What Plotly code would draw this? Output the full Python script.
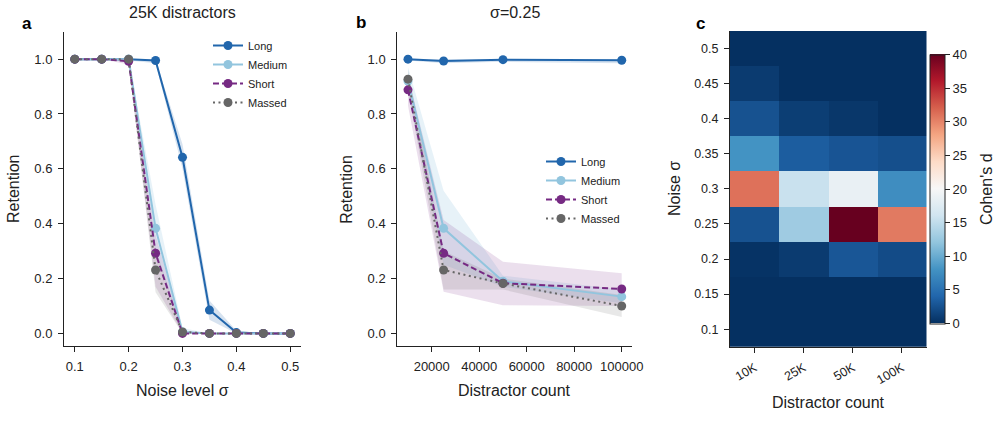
import plotly.graph_objects as go

# ---------------- data ----------------
sigma = [0.1, 0.15, 0.2, 0.25, 0.3, 0.35, 0.4, 0.45, 0.5]
a_long = [1.0, 1.0, 1.0, 0.995, 0.642, 0.085, 0.003, 0.0, 0.0]
a_long_lo = [1.0, 1.0, 0.995, 0.985, 0.60, 0.05, 0.0, 0.0, 0.0]
a_long_hi = [1.0, 1.0, 1.0, 1.0, 0.69, 0.12, 0.01, 0.0, 0.0]
a_medium = [1.0, 1.0, 1.0, 0.383, 0.005, 0.0, 0.0, 0.0, 0.0]
a_medium_lo = [1.0, 1.0, 0.99, 0.30, 0.0, 0.0, 0.0, 0.0, 0.0]
a_medium_hi = [1.0, 1.0, 1.0, 0.47, 0.02, 0.0, 0.0, 0.0, 0.0]
a_short = [1.0, 1.0, 0.992, 0.292, 0.0, 0.0, 0.0, 0.0, 0.0]
a_short_lo = [1.0, 1.0, 0.98, 0.17, 0.0, 0.0, 0.0, 0.0, 0.0]
a_short_hi = [1.0, 1.0, 1.0, 0.36, 0.01, 0.0, 0.0, 0.0, 0.0]
a_massed = [1.0, 1.0, 1.0, 0.231, 0.005, 0.0, 0.0, 0.0, 0.0]
a_massed_lo = [1.0, 1.0, 0.99, 0.15, 0.0, 0.0, 0.0, 0.0, 0.0]
a_massed_hi = [1.0, 1.0, 1.0, 0.31, 0.01, 0.0, 0.0, 0.0, 0.0]

distractors = [10000, 25000, 50000, 100000]
b_long = [1.0, 0.993, 0.998, 0.996]
b_long_lo = [0.995, 0.985, 0.99, 0.985]
b_long_hi = [1.0, 1.0, 1.0, 1.0]
b_medium = [0.92, 0.383, 0.19, 0.134]
b_medium_lo = [0.88, 0.25, 0.17, 0.11]
b_medium_hi = [0.97, 0.52, 0.21, 0.16]
b_short = [0.888, 0.292, 0.183, 0.162]
b_short_lo = [0.83, 0.152, 0.103, 0.10]
b_short_hi = [0.94, 0.413, 0.261, 0.219]
b_massed = [0.927, 0.231, 0.182, 0.10]
b_massed_lo = [0.89, 0.16, 0.16, 0.06]
b_massed_hi = [0.96, 0.30, 0.20, 0.14]

heat_x_labels = ["10K", "25K", "50K", "100K"]
heat_y_labels = ["0.1", "0.15", "0.2", "0.25", "0.3", "0.35", "0.4", "0.45", "0.5"]
# rows: noise 0.1 (bottom) -> 0.5 (top); columns: 10K, 25K, 50K, 100K
cohens_d = [
    [0.0, 0.0, 0.0, 0.0],
    [0.0, 0.0, 0.0, 0.0],
    [0.2, 0.8, 2.8, 2.0],
    [2.5, 12.8, 40.0, 30.5],
    [31.0, 15.5, 18.5, 7.5],
    [8.0, 3.3, 2.7, 2.3],
    [2.5, 1.0, 0.5, 0.0],
    [0.8, 0.0, 0.0, 0.0],
    [0.0, 0.0, 0.0, 0.0],
]
cbar_ticks = [0, 5, 10, 15, 20, 25, 30, 35, 40]

# ---------------- styles ----------------
W, H = 1001, 438
FONT = "Liberation Sans, Arial, sans-serif"
TXT = "#222222"
series = [
    ("Long", "#2166ac", "solid", "rgba(33,102,172,0.18)"),
    ("Medium", "#92c5de", "solid", "rgba(146,197,222,0.22)"),
    ("Short", "#762a83", "6px,3px", "rgba(118,42,131,0.15)"),
    ("Massed", "#666666", "2px,3.5px", "rgba(102,102,102,0.15)"),
]

def px_x(p):
    return p / W

def px_y(p):
    return 1 - p / H

fig = go.Figure()

def add_panel(x, vals, xa, ya, legend):
    for (name, col, dash, fillc), (v, lo, hi) in zip(series, vals):
        fig.add_trace(go.Scatter(
            x=list(x) + list(x)[::-1], y=list(hi) + list(lo)[::-1],
            fill="toself", fillcolor=fillc, line=dict(width=0),
            mode="lines", showlegend=False, hoverinfo="skip",
            xaxis=xa, yaxis=ya))
    for (name, col, dash, fillc), (v, lo, hi) in zip(series, vals):
        fig.add_trace(go.Scatter(
            x=x, y=v, name=name, mode="lines+markers",
            line=dict(color=col, width=2, dash=dash),
            marker=dict(color=col, size=9),
            xaxis=xa, yaxis=ya, legend=legend, showlegend=True))

add_panel(sigma, [(a_long, a_long_lo, a_long_hi), (a_medium, a_medium_lo, a_medium_hi),
                  (a_short, a_short_lo, a_short_hi), (a_massed, a_massed_lo, a_massed_hi)],
          "x", "y", "legend")
add_panel(distractors, [(b_long, b_long_lo, b_long_hi), (b_medium, b_medium_lo, b_medium_hi),
                        (b_short, b_short_lo, b_short_hi), (b_massed, b_massed_lo, b_massed_hi)],
          "x2", "y2", "legend2")

rdbu_r = ["#053061", "#2166ac", "#4393c3", "#92c5de", "#d1e5f0", "#f7f7f7",
          "#fddbc7", "#f4a582", "#d6604d", "#b2182b", "#67001f"]
cscale = [[i / 10, c] for i, c in enumerate(rdbu_r)]

fig.add_trace(go.Heatmap(
    z=cohens_d, x=list(range(len(heat_x_labels))), y=list(range(len(heat_y_labels))),
    colorscale=cscale, zmin=0, zmax=40, xaxis="x3", yaxis="y3",
    colorbar=dict(
        x=px_x(930), xanchor="left", xpad=0, ypad=0,
        y=px_y(189), yanchor="middle", len=(323 - 54) / H, lenmode="fraction",
        thickness=15, outlinewidth=1, outlinecolor="#222",
        tickvals=cbar_ticks, ticks="outside", ticklen=5,
        tickcolor="#222", tickfont=dict(family=FONT, size=13, color=TXT),
    ),
    hoverinfo="skip"))

yd = [px_y(346), px_y(31.7)]
def axis_common(size=13):
    return dict(showline=True, linecolor="#222", linewidth=1, ticks="outside",
                ticklen=5, tickcolor="#222", showgrid=False, zeroline=False,
                tickfont=dict(family=FONT, size=size, color=TXT), mirror=False,
                ticklabelstandoff=3, automargin=False)

fig.update_layout(
    width=W, height=H, margin=dict(l=0, r=0, t=0, b=0, autoexpand=False),
    plot_bgcolor="white", paper_bgcolor="white",
    font=dict(family=FONT, color=TXT),
    xaxis=dict(domain=[px_x(64), px_x(301)], range=[0.08, 0.52], tickvals=[0.1, 0.2, 0.3, 0.4, 0.5],
               tickformat=".1f", anchor="y", **axis_common()),
    yaxis=dict(domain=yd, range=[-0.046, 1.10], tickvals=[0, 0.2, 0.4, 0.6, 0.8, 1.0],
               tickformat=".1f", anchor="x", **axis_common()),
    xaxis2=dict(domain=[px_x(397.3), px_x(632.4)], range=[5500, 104500],
                tickvals=[20000, 40000, 60000, 80000, 100000], tickformat="d", anchor="y2",
                **axis_common()),
    yaxis2=dict(domain=yd, range=[-0.046, 1.10], tickvals=[0, 0.2, 0.4, 0.6, 0.8, 1.0],
                tickformat=".1f", anchor="x2", **axis_common()),
    xaxis3=dict(domain=[px_x(730), px_x(926.5)], range=[-0.5, 3.5], tickvals=[0, 1, 2, 3],
                ticktext=heat_x_labels, tickangle=-30, anchor="y3", **axis_common(12.5)),
    yaxis3=dict(domain=[px_y(346.7), px_y(31)], range=[-0.5, 8.5], tickvals=list(range(9)),
                ticktext=heat_y_labels, anchor="x3", **axis_common(12.5)),
    legend=dict(x=px_x(208), y=px_y(31), xanchor="left", yanchor="top",
                bgcolor="rgba(0,0,0,0)", font=dict(family=FONT, size=11, color=TXT),
                tracegroupgap=0),
    legend2=dict(x=px_x(541), y=px_y(147), xanchor="left", yanchor="top",
                 bgcolor="rgba(0,0,0,0)", font=dict(family=FONT, size=11, color=TXT),
                 tracegroupgap=0),
)

def ann(text, x, y, size=16, bold=False, angle=0):
    fig.add_annotation(text=f"<b>{text}</b>" if bold else text, x=px_x(x), y=px_y(y),
                       xref="paper", yref="paper", showarrow=False, textangle=angle,
                       xanchor="center", yanchor="middle",
                       font=dict(family=FONT, size=size, color="#000" if bold else TXT))

ann("a", 26.7, 23, 17, bold=True)
ann("b", 361, 22, 17, bold=True)
ann("c", 700.5, 23, 17, bold=True)
ann("25K distractors", 182.5, 13, 16)
ann("σ=0.25", 514.8, 13, 16)
ann("Retention", 14, 189, 16, angle=-90)
ann("Retention", 346.7, 189, 16, angle=-90)
ann("Noise σ", 675, 189, 16, angle=-90)
ann("Cohen's d", 987, 189, 16, angle=-90)
ann("Noise level σ", 182.5, 390, 16)
ann("Distractor count", 514.8, 390, 16)
ann("Distractor count", 828, 402.7, 16)

fig.write_html("out.html")
